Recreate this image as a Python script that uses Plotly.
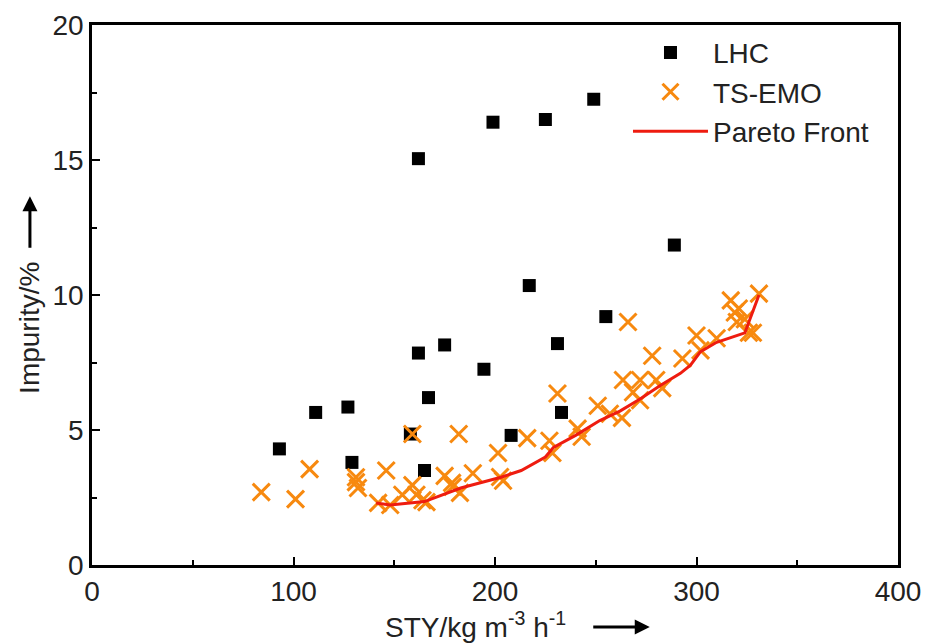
import plotly.graph_objects as go

# LHC samples
lhc_sty = [93, 111, 127, 129, 158, 162, 162, 165, 167, 175, 194.5, 199, 208, 217, 225, 231, 233, 249, 255, 289]
lhc_imp = [4.3, 5.65, 5.85, 3.8, 4.85, 15.05, 7.85, 3.5, 6.2, 8.15, 7.25, 16.4, 4.8, 10.35, 16.5, 8.2, 5.65, 17.25, 9.2, 11.85]

# TS-EMO samples
ts_sty = [84, 101, 108, 131, 132, 131, 142, 146, 148, 154, 159, 159, 161, 166, 164, 175, 179, 178.7, 182, 182.6,
          189, 201.5, 202.5, 204, 216, 227, 228.5, 231, 241, 243, 251, 257, 263, 263.5, 266, 268.5, 272, 272,
          278, 280, 283, 293, 300, 302, 310, 317, 319, 321, 324, 326, 328, 331, 320]
ts_imp = [2.7, 2.44, 3.55, 3.07, 2.85, 3.25, 2.3, 3.5, 2.22, 2.6, 2.96, 4.85, 2.6, 2.33, 2.4, 3.3, 2.9, 3.04, 4.85, 2.67,
          3.4, 4.15, 3.26, 3.12, 4.7, 4.6, 4.15, 6.35, 5.05, 4.75, 5.9, 5.6, 5.45, 6.85, 9.0, 6.4, 6.85, 6.1,
          7.75, 6.85, 6.55, 7.65, 8.5, 7.95, 8.4, 9.8, 9.35, 9.5, 9.1, 8.6, 8.6, 10.05, 9.0]

# Pareto front
pf_sty = [141, 148, 165, 183, 203, 213, 225, 229, 240, 252, 262, 272, 282, 292, 297, 302, 310, 324, 326, 328, 331]
pf_imp = [2.3, 2.22, 2.35, 2.85, 3.25, 3.5, 4.0, 4.35, 4.8, 5.35, 5.7, 6.15, 6.65, 7.1, 7.4, 7.9, 8.25, 8.6, 9.0, 9.4, 10.0]

FONT = "Liberation Sans, Arial, sans-serif"
FS = 28
ORANGE = "#F7890F"
RED = "#EE1C10"

fig = go.Figure()
fig.add_trace(go.Scatter(x=lhc_sty, y=lhc_imp, mode="markers", name="LHC",
                         marker=dict(symbol="square", size=13, color="black")))
fig.add_trace(go.Scatter(x=ts_sty, y=ts_imp, mode="markers", name="TS-EMO",
                         marker=dict(symbol="x-thin", size=17, color=ORANGE,
                                     line=dict(color=ORANGE, width=3))))
fig.add_trace(go.Scatter(x=pf_sty, y=pf_imp, mode="lines", name="Pareto Front",
                         line=dict(color=RED, width=3)))

axis_common = dict(showgrid=False, zeroline=False, showline=True, linecolor="black", linewidth=2.5,
                   mirror=True, ticks="inside", ticklen=8, tickwidth=2, tickcolor="black",
                   automargin=False, ticklabeloverflow="allow",
                   tickfont=dict(family=FONT, size=FS, color="#222"))
fig.update_xaxes(range=[0, 400], dtick=100, tick0=0,
                 minor=dict(dtick=50, ticks="inside", ticklen=5, tickwidth=2, tickcolor="black"),
                 **axis_common)
fig.update_yaxes(range=[0, 20], dtick=5, tick0=0,
                 minor=dict(dtick=2.5, ticks="inside", ticklen=5, tickwidth=2, tickcolor="black"),
                 **axis_common)

fig.update_layout(
    width=925, height=644,
    margin=dict(l=92, r=27, t=25, b=79, autoexpand=False),
    paper_bgcolor="white", plot_bgcolor="white",
    font=dict(family=FONT, size=FS, color="#222"),
    legend=dict(x=0.665, y=0.995, xanchor="left", yanchor="top", bgcolor="rgba(0,0,0,0)",
                font=dict(family=FONT, size=FS, color="#222"), tracegroupgap=0, itemwidth=75),
    showlegend=True,
)

annotations = [
    dict(text="STY/kg m<sup>-3</sup> h<sup>-1</sup>", xref="paper", yref="paper", x=0.476, y=-0.112,
         showarrow=False, font=dict(family=FONT, size=FS, color="#222"), xanchor="center", yanchor="middle"),
    dict(text="", xref="paper", yref="paper", x=0.692, y=-0.115, ax=-58, ay=0,
         showarrow=True, arrowhead=2, arrowsize=1, arrowwidth=3, arrowcolor="black"),
    dict(text="Impurity/%", xref="paper", yref="paper", x=-0.077, y=0.439, textangle=-90,
         showarrow=False, font=dict(family=FONT, size=FS, color="#222"), xanchor="center", yanchor="middle"),
    dict(text="", xref="paper", yref="paper", x=-0.077, y=0.683, ax=0, ay=53,
         showarrow=True, arrowhead=2, arrowsize=1, arrowwidth=3, arrowcolor="black"),
]
fig.update_layout(annotations=annotations)

fig.write_html("out.html", config={"displayModeBar": False},
               post_script="document.body.style.margin='0';document.body.style.overflow='hidden';")
